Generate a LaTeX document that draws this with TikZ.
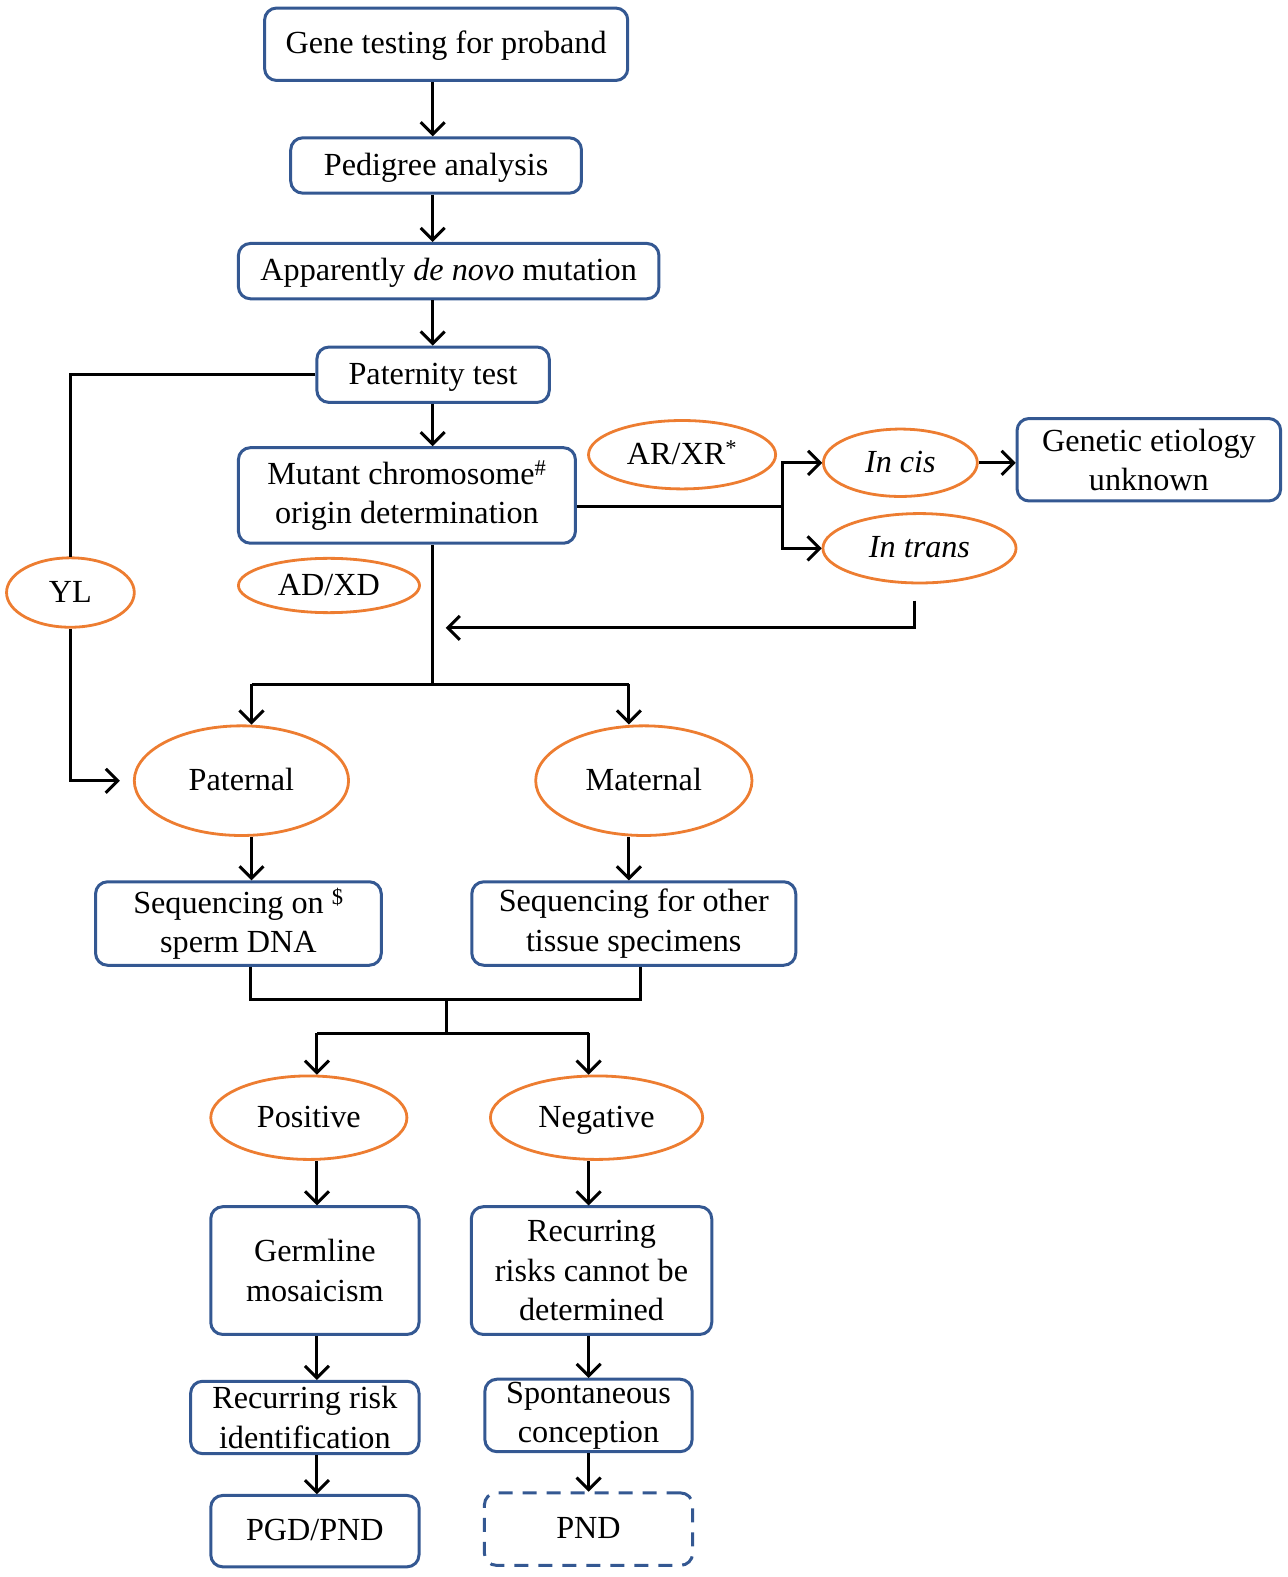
\documentclass[tikz,border=0pt]{standalone}
\usepackage{fontspec}
\setmainfont{Liberation Serif}
\usetikzlibrary{shapes.geometric,arrows.meta}
\definecolor{boxblue}{RGB}{52,88,146}
\definecolor{ellorange}{RGB}{237,125,49}
\tikzset{
  base/.style={font=\fontsize{32}{39}\selectfont, align=center, inner sep=0pt, text=black},
  oneline/.style={text height=21pt, text depth=2pt},
  bbox/.style={base, draw=boxblue, line width=3pt, rounded corners=12pt, rectangle},
  oval/.style={base, oneline, draw=ellorange, line width=2.8pt, ellipse},
  conn/.style={line width=3pt, draw=black},
  arr/.style={conn, -{Straight Barb[length=12pt,width=24pt,line width=3pt]}}
}
\begin{document}
\begin{tikzpicture}[x=1pt,y=-1pt,scale=1.006,transform shape]
\useasboundingbox (0,0) rectangle (1280.3,1567.6);
% boxes
\node[bbox, oneline, minimum width=361pt, minimum height=72pt] (gene) at (443.5,44) {Gene testing for proband};
\node[bbox, oneline, minimum width=289pt, minimum height=55pt] (ped) at (433.5,164.5) {Pedigree analysis};
\node[bbox, oneline, minimum width=418pt, minimum height=55pt] (apd) at (446,269.5) {Apparently \textit{de novo} mutation};
\node[bbox, oneline, minimum width=231pt, minimum height=55pt] (pat) at (430.5,372.5) {Paternity test};
\node[bbox, minimum width=335pt, minimum height=95pt] (mut) at (404.5,492.5) {Mutant chromosome\textsuperscript{\#}\\origin determination};
\node[oval, minimum width=186pt, minimum height=68pt] (arxr) at (678,452) {AR/XR\textsuperscript{*}};
\node[oval, minimum width=153pt, minimum height=67pt] (incis) at (895,460) {\textit{In cis}};
\node[oval, minimum width=192pt, minimum height=69pt] (intrans) at (914,545) {\textit{In trans}};
\node[bbox, minimum width=262pt, minimum height=82pt] (gen) at (1142,457) {Genetic etiology\\unknown};
\node[oval, minimum width=127pt, minimum height=69pt] (yl) at (70,589) {YL};
\node[oval, minimum width=180pt, minimum height=54pt] (adxd) at (327,582) {AD/XD};
\node[oval, minimum width=213pt, minimum height=109pt] (paternal) at (240,776) {Paternal};
\node[oval, minimum width=215pt, minimum height=109pt] (maternal) at (640,776) {Maternal};
\node[bbox, minimum width=284pt, minimum height=83pt] (seqa) at (237,918) {Sequencing on \textsuperscript{\$}\\sperm DNA};
\node[bbox, minimum width=322pt, minimum height=83pt] (seqb) at (630,918) {Sequencing for other\\tissue specimens};
\node[oval, minimum width=195pt, minimum height=83pt] (pos) at (307,1111) {Positive};
\node[oval, minimum width=211pt, minimum height=83pt] (neg) at (593,1111) {Negative};
\node[bbox, minimum width=207pt, minimum height=127pt] (germ) at (313,1263) {Germline\\mosaicism};
\node[bbox, minimum width=239pt, minimum height=127pt] (rcb) at (588,1263) {Recurring\\risks cannot be\\determined};
\node[bbox, minimum width=227pt, minimum height=72pt] (rri) at (303,1409) {Recurring risk\\identification};
\node[bbox, minimum width=206pt, minimum height=72pt] (spc) at (585,1407) {Spontaneous\\conception};
\node[bbox, oneline, minimum width=207pt, minimum height=71pt] (pgd) at (313,1522) {PGD/PND};
\node[bbox, oneline, dash pattern=on 14pt off 10pt, minimum width=207pt, minimum height=72pt] (pnd) at (585,1520) {PND};
% helper coordinates
\coordinate (cx) at (430,0);
\coordinate (jn) at (778,503);
\coordinate (tb) at (909,597);
\coordinate (tend) at (443,624);
\coordinate (sp) at (430,680);
\coordinate (spl) at (250,680);
\coordinate (spr) at (625,680);
\coordinate (ma) at (249,993);
\coordinate (mb) at (637,993);
\coordinate (mc) at (444,993);
\coordinate (md) at (444,1027);
\coordinate (ml) at (315,1027);
\coordinate (mr) at (585,1027);
% main spine
\draw[arr] (gene.south -| cx) -- (ped.north -| cx);
\draw[arr] (ped.south -| cx) -- (apd.north -| cx);
\draw[arr] (apd.south -| cx) -- (pat.north -| cx);
\draw[arr] (pat.south -| cx) -- (mut.north -| cx);
% YL branch
\draw[conn] (pat.west) -| (yl.north);
\draw[arr, shorten >=13pt] (yl.south) |- (paternal.west);
% recessive branch
\draw[conn] (mut.east |- jn) -- (jn);
\draw[arr] (jn) |- (incis.west);
\draw[arr] (jn) |- (intrans.west);
\draw[arr] (incis.east) -- (incis.east -| gen.west);
\draw[arr] (tb) |- (tend);
% split to paternal / maternal
\draw[conn] (mut.south -| sp) -- (sp);
\draw[conn] (spl) -- (spr);
\draw[arr] (spl) -- (paternal.north -| spl);
\draw[arr] (spr) -- (maternal.north -| spr);
\draw[arr] (paternal.south -| spl) -- (seqa.north -| spl);
\draw[arr] (maternal.south -| spr) -- (seqb.north -| spr);
% merge
\draw[conn] (seqa.south -| ma) -- (ma) -- (mb) -- (seqb.south -| mb);
\draw[conn] (mc) -- (md);
\draw[conn] (ml) -- (mr);
\draw[arr] (ml) -- (pos.north -| ml);
\draw[arr] (mr) -- (neg.north -| mr);
% lower chains
\draw[arr] (pos.south -| ml) -- (germ.north -| ml);
\draw[arr] (neg.south -| mr) -- (rcb.north -| mr);
\draw[arr] (germ.south -| ml) -- (rri.north -| ml);
\draw[arr] (rcb.south -| mr) -- (spc.north -| mr);
\draw[arr] (rri.south -| ml) -- (pgd.north -| ml);
\draw[arr] (spc.south -| mr) -- (pnd.north -| mr);
\end{tikzpicture}
\end{document}
